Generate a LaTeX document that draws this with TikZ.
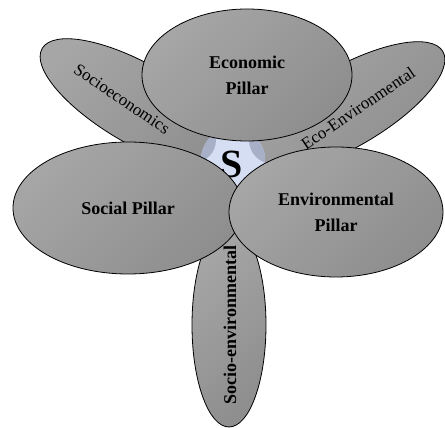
\documentclass[tikz,border=0pt]{standalone}
\usepackage{fontspec}
\setmainfont{Liberation Serif}
\usetikzlibrary{shapes.geometric}
\definecolor{petalgray}{HTML}{9C9C9C}
\definecolor{petaldark}{HTML}{8E8E8E}
\definecolor{corelight}{HTML}{D5DEF2}
\definecolor{coreshade}{HTML}{A7B0C7}
\tikzset{
  petal/.style={ellipse, draw=black, line width=0.8pt, inner sep=0pt,
    left color=petalgray!90!white, right color=petaldark, shading angle=45},
  pillar/.style={petal, align=center, font=\fontsize{18}{26}\selectfont\bfseries},
  petaltext/.style={font=\fontsize{17}{20}\selectfont, inner sep=0pt},
  petalbold/.style={font=\fontsize{18}{20}\selectfont\bfseries, inner sep=0pt},
}
\begin{document}
\begin{tikzpicture}[x=1pt,y=1pt]
\useasboundingbox (0,0) rectangle (445,428);

% outer petals (links between pillars)
\node[petal, minimum width=226pt, minimum height=80pt, rotate=-30] (socioeco) at (140,323) {};
\node[petal, minimum width=226pt, minimum height=80pt, rotate=30] (ecoenv) at (345,320) {};
\node[petal, minimum width=74pt, minimum height=204pt] (socioenv) at (229,103) {};

% centre: sustainability
\fill[corelight] (233,268) circle (32);
\begin{scope}
  \clip (233,268) circle (32);
  \fill[coreshade] (193,288) circle (23);
  \fill[coreshade] (273,288) circle (24);
\end{scope}
\node[font=\fontsize{40}{40}\selectfont\bfseries, inner sep=0pt] (core) at (232,264) {S};

% the three pillars
\node[pillar, minimum width=210pt, minimum height=132pt] (economic) at (247,353) {Economic\\Pillar};
\node[pillar, minimum width=230pt, minimum height=132pt] (social) at (128,220) {Social Pillar};
\node[pillar, minimum width=214pt, minimum height=130pt] (environmental) at (336,216) {Environmental\\Pillar};

% petal labels
\node[petaltext, rotate=-34] (socioecotext) at (122,329) {Socioeconomics};
\node[petaltext, rotate=34] (ecoenvtext) at (358,320) {Eco-Environmental};
\node[petalbold, rotate=90] (socioenvtext) at (230,103) {Socio-environmental};
\end{tikzpicture}
\end{document}
